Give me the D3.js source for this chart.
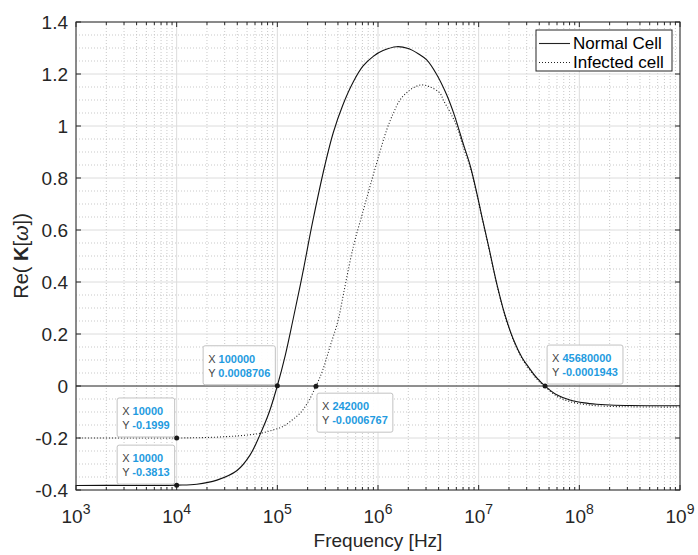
<!DOCTYPE html>
<html><head><meta charset="utf-8">
<script src="https://cdn.jsdelivr.net/npm/d3@7"></script>
<style>body{margin:0;background:#fff} svg{display:block;font-family:"Liberation Sans",Arial,Helvetica,sans-serif}</style>
</head><body><svg id="c" width="698" height="555"></svg>
<script>
// ---- data ----
const freqNormal = [1000,3162,10000,15849,25119,39811,53703,67608,83176,100000,120226,142233,177828,223872,297167,359749,446684,568853,707946,897428,1122018,1534617,1995262,2511886,3047895,3801894,4808393,5754399,7046931,8203515,9549926,10715193,12589254,15100636,18197009,22080047,26915348,32359366,38018940,45680000,60255959,80723503,112201845,148593564,223872114,316227766,562341325,1000000000];
const valNormal = [-0.3826,-0.3822,-0.3813,-0.378,-0.362,-0.325,-0.265,-0.185,-0.10,0.0008706,0.12,0.25,0.43,0.63,0.85,0.975,1.08,1.17,1.23,1.268,1.29,1.305,1.298,1.278,1.254,1.20,1.12,1.04,0.93,0.85,0.745,0.655,0.535,0.395,0.275,0.18,0.11,0.065,0.03,-0.0001943,-0.035,-0.054,-0.065,-0.07,-0.074,-0.075,-0.076,-0.076];
const freqInfected = [1000,3162,10000,19953,39811,67608,89125,114551,141254,167880,199526,242000,281838,333426,402717,451856,568853,707946,831764,1000000,1218950,1419058,1651939,1927525,2290868,2716439,3311311,4130475,4456562,5248075,6053409,7079458,8203515,9549926,10715193,12589254,15100636,18197009,22080047,26915348,32359366,38018940,45680000,60255959,80723503,112201845,148593564,223872114,316227766,562341325,1000000000];
const valInfected = [-0.2002,-0.2001,-0.1999,-0.198,-0.192,-0.182,-0.17,-0.155,-0.13,-0.105,-0.065,-0.0006767,0.06,0.151,0.254,0.35,0.536,0.67,0.767,0.875,0.985,1.049,1.10,1.128,1.149,1.158,1.15,1.126,1.10,1.05,1.0,0.915,0.845,0.74,0.652,0.532,0.392,0.272,0.177,0.106,0.06,0.026,-0.003,-0.04,-0.06,-0.071,-0.076,-0.079,-0.080,-0.081,-0.081];
const seriesNames = ["Normal Cell","Infected cell"];
const xTickExps = [3,4,5,6,7,8,9];
const yTicks = [-0.4,-0.2,0,0.2,0.4,0.6,0.8,1,1.2,1.4];
const yTickLabels = ["-0.4","-0.2","0","0.2","0.4","0.6","0.8","1","1.2","1.4"];
const tipSeries = [1,0,0,1,0];
const tipX = [10000,10000,100000,242000,45680000];
const tipY = [-0.1999,-0.3813,0.0008706,-0.0006767,-0.0001943];
const tipXText = ["10000","10000","100000","242000","45680000"];
const tipYText = ["-0.1999","-0.3813","0.0008706","-0.0006767","-0.0001943"];
const tipPlace = ["nw","nw","nw","se","ne"];

// ---- layout ----
const L=76,R=680,T=22,B=490;
const svg=d3.select("#c");
const x=d3.scaleLog().domain([1e3,1e9]).range([L,R]);
const y=d3.scaleLinear().domain([-0.4,1.4]).range([B,T]);
const axisCol="#262626";

svg.append("rect").attr("x",0).attr("y",0).attr("width",698).attr("height",555).attr("fill","#fff");
svg.append("defs").append("clipPath").attr("id","clip").append("rect").attr("x",L).attr("y",T).attr("width",R-L).attr("height",B-T);

// grid
const allX=x.ticks();
const isMajorX=v=>Math.abs(Math.log10(v)-Math.round(Math.log10(v)))<1e-9;
const minorX=allX.filter(v=>!isMajorX(v));
const majorX=allX.filter(isMajorX);
const allY=y.ticks(36);
const minorY=allY.filter(v=>!yTicks.some(t=>Math.abs(t-v)<1e-9));
const g=svg.append("g");
g.selectAll(".mx").data(minorX).join("line").attr("x1",d=>x(d)).attr("x2",d=>x(d)).attr("y1",T).attr("y2",B)
 .attr("stroke","#c9c9c9").attr("stroke-dasharray","1,2").attr("stroke-width",1);
g.selectAll(".my").data(minorY).join("line").attr("y1",d=>y(d)).attr("y2",d=>y(d)).attr("x1",L).attr("x2",R)
 .attr("stroke","#c9c9c9").attr("stroke-dasharray","1,2").attr("stroke-width",1);
g.selectAll(".Mx").data(majorX).join("line").attr("x1",d=>x(d)).attr("x2",d=>x(d)).attr("y1",T).attr("y2",B)
 .attr("stroke","#dcdcdc").attr("stroke-width",1);
g.selectAll(".My").data(yTicks).join("line").attr("y1",d=>y(d)).attr("y2",d=>y(d)).attr("x1",L).attr("x2",R)
 .attr("stroke","#dcdcdc").attr("stroke-width",1);

// zero line
svg.append("line").attr("x1",L).attr("x2",R).attr("y1",y(0)).attr("y2",y(0)).attr("stroke","#333").attr("stroke-width",1);

// curves
const line=d3.line().x(d=>x(d[0])).y(d=>y(d[1])).curve(d3.curveCatmullRom.alpha(0.5));
const cg=svg.append("g").attr("clip-path","url(#clip)");
cg.append("path").datum(freqInfected.map((f,i)=>[f,valInfected[i]])).attr("d",line)
  .attr("fill","none").attr("stroke","#222").attr("stroke-width",1.1).attr("stroke-dasharray","1,2");
cg.append("path").datum(freqNormal.map((f,i)=>[f,valNormal[i]])).attr("d",line)
  .attr("fill","none").attr("stroke","#111").attr("stroke-width",1.1);

// axes (box with inward ticks)
const ax=svg.append("g").attr("stroke",axisCol).attr("stroke-width",1);
ax.append("rect").attr("x",L).attr("y",T).attr("width",R-L).attr("height",B-T).attr("fill","none");
allX.forEach(v=>{const len=isMajorX(v)?5:3;
  ax.append("line").attr("x1",x(v)).attr("x2",x(v)).attr("y1",B).attr("y2",B-len);
  ax.append("line").attr("x1",x(v)).attr("x2",x(v)).attr("y1",T).attr("y2",T+len);});
yTicks.forEach(v=>{
  ax.append("line").attr("y1",y(v)).attr("y2",y(v)).attr("x1",L).attr("x2",L+5);
  ax.append("line").attr("y1",y(v)).attr("y2",y(v)).attr("x1",R).attr("x2",R-5);});

// tick labels
const tl=svg.append("g").attr("fill",axisCol);
yTicks.forEach((v,i)=>{
  tl.append("text").attr("x",L-8).attr("y",y(v)).attr("dy","0.35em").attr("text-anchor","end")
    .attr("font-size",19).text(yTickLabels[i]);});
xTickExps.forEach(e=>{
  const t=tl.append("text").attr("x",x(Math.pow(10,e))).attr("y",523).attr("text-anchor","middle").attr("font-size",19);
  t.append("tspan").text("10");
  t.append("tspan").attr("dy",-9).attr("font-size",14).text(String(e));});

// axis labels
svg.append("text").attr("x",(L+R)/2).attr("y",547).attr("text-anchor","middle").attr("font-size",19).attr("fill",axisCol).text("Frequency [Hz]");
const yl=svg.append("text").attr("transform",`translate(28,${(T+B)/2}) rotate(-90)`).attr("text-anchor","middle").attr("font-size",20).attr("fill",axisCol);
yl.append("tspan").text("Re( ");
yl.append("tspan").attr("font-weight","bold").text("K");
yl.append("tspan").text("[");
yl.append("tspan").attr("font-style","italic").text("ω");
yl.append("tspan").text("])");

// legend
const lg=svg.append("g");
lg.append("rect").attr("x",536).attr("y",30).attr("width",136).attr("height",41).attr("fill","#fff").attr("stroke",axisCol).attr("stroke-width",1);
[0,1].forEach(i=>{
  const yy=43.5+i*19;
  lg.append("line").attr("x1",539).attr("x2",570).attr("y1",yy).attr("y2",yy).attr("stroke","#222").attr("stroke-width",1.1)
    .attr("stroke-dasharray",i?"1,2":null);
  lg.append("text").attr("x",573).attr("y",yy).attr("dy","0.35em").attr("font-size",17).attr("fill","#000").text(seriesNames[i]);});

// datatips
const tg=svg.append("g");
tipX.forEach((tx,i)=>{
  const px=x(tx), py=y(tipY[i]);
  const grp=tg.append("g");
  const box=grp.append("rect").attr("rx",2).attr("fill","rgba(255,255,255,0.93)").attr("stroke","#c2c2c2").attr("stroke-width",1);
  const t1=grp.append("text").attr("font-size",11);
  t1.append("tspan").attr("fill","#444").text("X ");
  t1.append("tspan").attr("fill","#1f9be0").attr("font-weight","bold").text(tipXText[i]);
  const t2=grp.append("text").attr("font-size",11);
  t2.append("tspan").attr("fill","#444").text("Y ");
  t2.append("tspan").attr("fill","#1f9be0").attr("font-weight","bold").text(tipYText[i]);
  const w=Math.max(t1.node().getComputedTextLength(),t2.node().getComputedTextLength())+10;
  const h=39;
  let bx,by;
  if(tipPlace[i]==="nw"){bx=px-2-w;by=py-1-h;}
  else if(tipPlace[i]==="ne"){bx=px+2;by=py-2-h;}
  else {bx=px+1;by=py+7;}
  box.attr("x",bx).attr("y",by).attr("width",w).attr("height",h);
  t1.attr("x",bx+5).attr("y",by+17);
  t2.attr("x",bx+5).attr("y",by+31);
  tg.append("circle").attr("cx",px).attr("cy",py).attr("r",2.5).attr("fill","#1a1a1a");
});
</script></body></html>
